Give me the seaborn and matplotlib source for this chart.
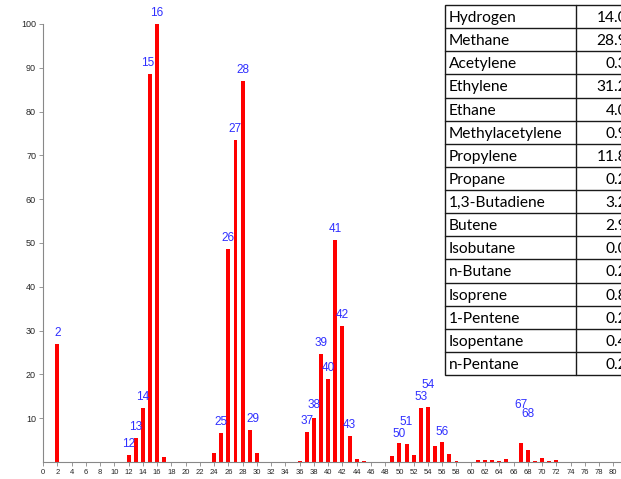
import matplotlib
matplotlib.use("Agg")
import matplotlib.pyplot as plt
import seaborn as sns
import pandas as pd
from matplotlib.patches import Rectangle

# Mass spectrum: m/z and relative intensity (%)
mz = [2, 12, 13, 14, 15, 16, 17, 24, 25, 26, 27, 28, 29, 30, 36, 37, 38, 39, 40,
      41, 42, 43, 44, 45, 49, 50, 51, 52, 53, 54, 55, 56, 57, 58, 61, 62, 63, 64,
      65, 67, 68, 69, 70, 71, 72]
intensity = [27.0, 1.6, 5.5, 12.4, 88.6, 100.0, 1.2, 2.0, 6.7, 48.6, 73.5, 87.0,
             7.3, 2.0, 0.3, 6.8, 10.1, 24.7, 19.0, 50.7, 31.1, 5.9, 0.6, 0.3, 1.4,
             4.4, 4.2, 1.7, 12.3, 12.5, 3.6, 4.5, 1.9, 0.3, 0.4, 0.4, 0.4, 0.3, 0.7,
             4.4, 2.7, 0.2, 0.8, 0.3, 0.5]
labeled_mz = [2, 12, 13, 14, 15, 16, 25, 26, 27, 28, 29, 37, 38, 39, 40, 41, 42,
              43, 50, 51, 53, 54, 56, 67, 68]

# Gas composition table
gases = ["Hydrogen", "Methane", "Acetylene", "Ethylene", "Ethane",
         "Methylacetylene", "Propylene", "Propane", "1,3-Butadiene", "Butene",
         "Isobutane", "n-Butane", "Isoprene", "1-Pentene", "Isopentane",
         "n-Pentane"]
fractions = [14.0, 28.9, 0.3, 31.2, 4.0, 0.9, 11.8, 0.2, 3.2, 2.9, 0.0, 0.2, 0.8,
             0.2, 0.4, 0.2]

sns.set_style("ticks")
plt.rcParams["font.family"] = ["Liberation Sans Narrow", "Liberation Sans", "DejaVu Sans"]

W, H = 621, 479
fig = plt.figure(figsize=(W / 100, H / 100), dpi=100)
ax = fig.add_axes([43 / W, 17 / H, 581 / W, 438 / H])

df = pd.DataFrame({"mz": mz, "intensity": intensity})
sns.barplot(data=df, x="mz", y="intensity", native_scale=True, width=0.55,
            color="#ff0000", saturation=1, errorbar=None, linewidth=0, ax=ax)

ax.set_xlim(0, 81.5)
ax.set_ylim(0, 100)
ax.set_xticks(range(0, 81, 2))
ax.set_yticks(range(10, 101, 10))
ax.set_xlabel("")
ax.set_ylabel("")
ax.tick_params(axis="x", length=3, width=0.6, color="#888888", labelsize=5.5, pad=2)
ax.tick_params(axis="y", length=3, width=0.6, color="#888888", labelsize=6.5, pad=2)
sns.despine(ax=ax)
for side in ("left", "bottom"):
    ax.spines[side].set_color("#888888")
    ax.spines[side].set_linewidth(0.8)

# extra lift (px) and horizontal nudge (px) for crowded labels
lift = {38: 2, 50: -2, 51: 11, 54: 11, 56: -1, 67: 27, 68: 25}
nudge = {15: -2, 29: 3}
for m in labeled_mz:
    v = intensity[mz.index(m)]
    up = (11 + lift.get(m, 0)) * 0.72
    dx = nudge.get(m, 0) * 0.72
    ax.annotate(str(m), (m, v), xytext=(dx, up), textcoords="offset points",
                ha="center", va="center", color="#2f2fff", fontsize=8.5,
                family=["Liberation Sans", "DejaVu Sans"])

# composition table, drawn in pixel coordinates
tax = fig.add_axes([0, 0, 1, 1])
tax.set_xlim(0, W)
tax.set_ylim(H, 0)
tax.axis("off")
x0, x1, xr = 445, 575.5, 660
y0, y1 = 5, 375
rh = (y1 - y0) / len(gases)
tax.add_patch(Rectangle((x0, y0), xr - x0, y1 - y0, facecolor="white",
                        edgecolor="#1a1a1a", linewidth=1.0))
tax.plot([x1, x1], [y0, y1], color="#1a1a1a", lw=1.0)
for i, (g, f) in enumerate(zip(gases, fractions)):
    yc = y0 + rh * (i + 0.5) + 1.5
    if i > 0:
        tax.plot([x0, xr], [y0 + rh * i] * 2, color="#1a1a1a", lw=1.0)
    tax.text(x0 + 4, yc, g, ha="left", va="center", fontsize=11.2,
             family=["Lato", "DejaVu Sans"], color="#000000")
    tax.text(627, yc, f"{f:.1f}", ha="right", va="center", fontsize=11.2,
             family=["Lato", "DejaVu Sans"], color="#000000")

fig.savefig("out.png", dpi=100)
